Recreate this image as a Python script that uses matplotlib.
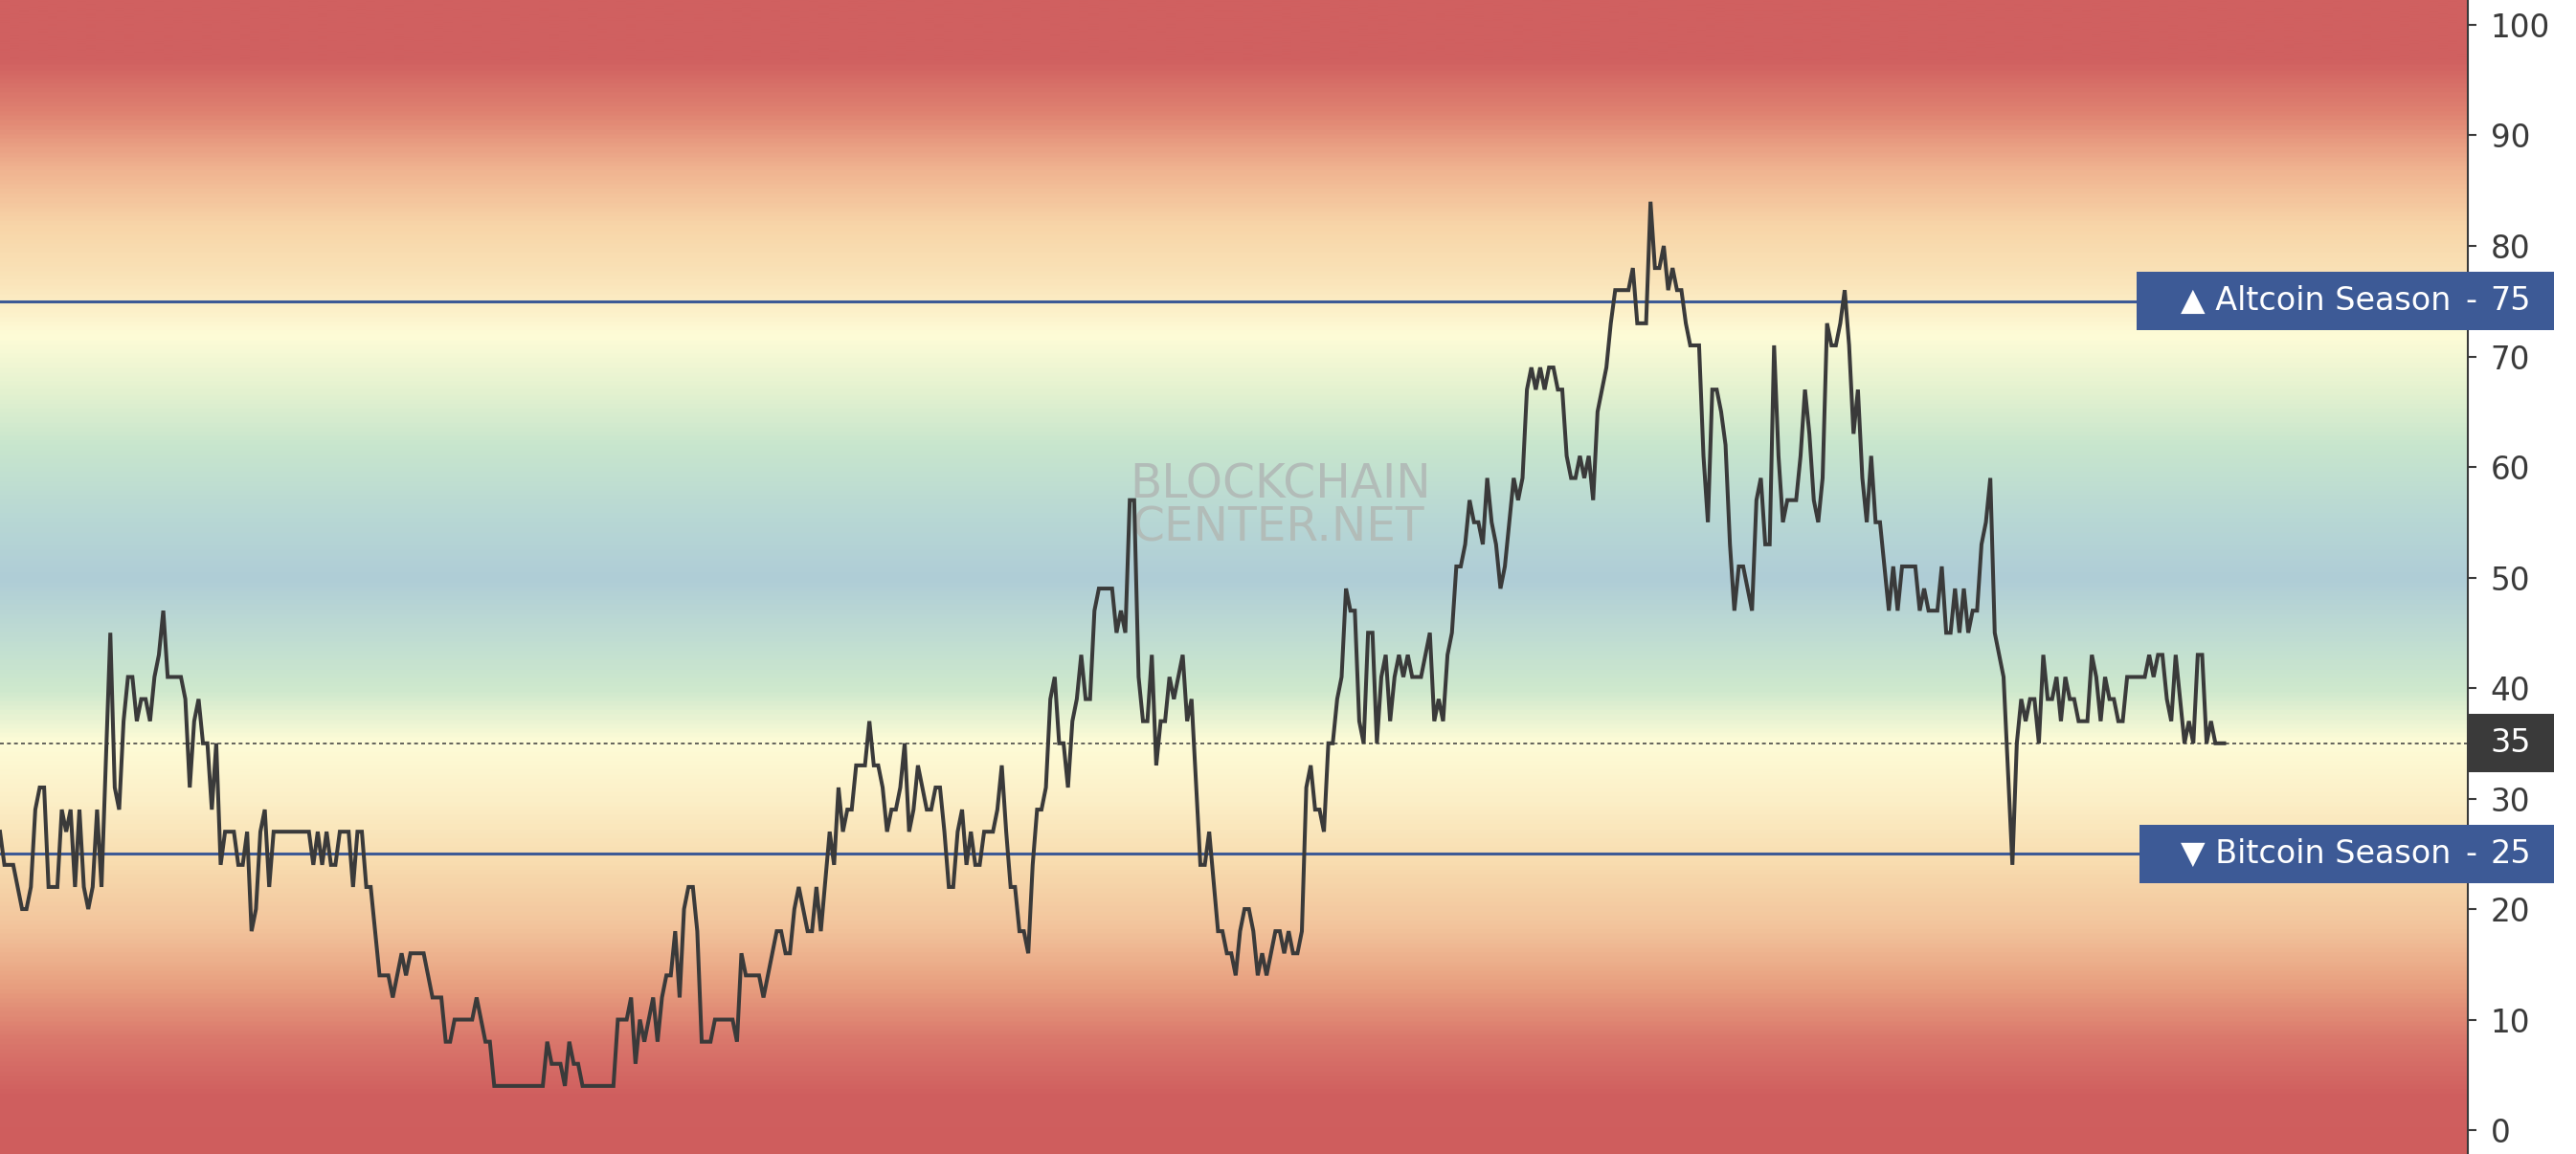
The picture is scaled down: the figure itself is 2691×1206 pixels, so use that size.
import numpy as np
import matplotlib
matplotlib.use('Agg')
import matplotlib.pyplot as plt
from matplotlib.colors import LinearSegmentedColormap
from matplotlib.patches import Rectangle
from matplotlib.transforms import blended_transform_factory

plt.rcParams['font.family'] = ['DejaVu Sans']

# altcoin season index, vertices (day index, value)
day = [0, 1, 3, 5, 6, 7, 8, 9, 10, 11, 13, 14, 15, 16, 17, 18, 19, 20, 21, 22, 23, 25, 26, 27, 28, 29, 30,
       31, 32, 33, 34, 35, 36, 37, 38, 41, 42, 43, 44, 45, 46, 47, 48, 49, 50, 51, 53, 54, 55, 56, 57, 58,
       59, 60, 61, 62, 70, 71, 72, 73, 74, 75, 76, 77, 79, 80, 81, 82, 83, 84, 86, 88, 89, 91, 92, 93, 96,
       98, 100, 101, 102, 103, 107, 108, 110, 111, 112, 123, 124, 125, 127, 128, 129, 130, 131, 132, 139,
       140, 142, 143, 144, 145, 146, 148, 149, 150, 151, 152, 153, 154, 155, 156, 157, 158, 159, 161, 162,
       166, 167, 168, 169, 172, 173, 175, 176, 177, 178, 179, 180, 181, 183, 184, 185, 186, 188, 189, 190,
       191, 192, 193, 194, 196, 197, 198, 199, 200, 201, 202, 203, 204, 205, 206, 207, 208, 209, 210, 211,
       212, 213, 214, 215, 216, 217, 218, 219, 220, 221, 222, 223, 225, 226, 227, 228, 229, 230, 231, 232,
       233, 234, 235, 236, 237, 238, 239, 240, 241, 242, 243, 244, 245, 246, 247, 248, 249, 252, 253, 254,
       255, 256, 257, 258, 259, 260, 261, 262, 263, 264, 265, 266, 267, 268, 269, 270, 272, 273, 274, 276,
       277, 278, 279, 280, 281, 282, 283, 284, 285, 286, 287, 288, 289, 290, 291, 292, 293, 294, 295, 296,
       297, 298, 299, 300, 301, 302, 303, 304, 305, 306, 307, 308, 309, 310, 311, 312, 313, 314, 315, 316,
       317, 318, 319, 320, 322, 323, 324, 325, 326, 327, 328, 329, 330, 331, 332, 333, 334, 335, 336, 337,
       338, 339, 340, 341, 342, 343, 344, 345, 346, 347, 348, 349, 350, 351, 352, 353, 354, 355, 356, 357,
       358, 359, 360, 361, 362, 363, 364, 365, 366, 369, 370, 371, 373, 374, 375, 376, 377, 378, 379, 380,
       381, 382, 383, 385, 386, 387, 388, 389, 390, 391, 392, 393, 394, 395, 396, 397, 398, 399, 400, 401,
       402, 403, 404, 405, 407, 408, 409, 410, 411, 412, 413, 414, 415, 416, 417, 418, 419, 420, 421, 422,
       423, 424, 425, 426, 427, 428, 429, 430, 431, 434, 435, 436, 437, 439, 440, 441, 442, 443, 444, 445,
       446, 447, 448, 449, 450, 451, 452, 453, 454, 456, 457, 458, 459, 460, 461, 462, 463, 464, 465, 466,
       467, 468, 469, 470, 471, 473, 474, 475, 476, 477, 478, 479, 480, 481, 482, 486, 487, 488, 489, 490,
       491, 492, 493, 494, 495, 496, 497, 498, 499, 500, 501, 502, 504]
alt_index = [27, 24, 24, 20, 20, 22, 29, 31, 31, 22, 22, 29, 27, 29, 22, 29, 22, 20, 22, 29, 22, 45, 31, 29, 37, 41, 41,
             37, 39, 39, 37, 41, 43, 47, 41, 41, 39, 31, 37, 39, 35, 35, 29, 35, 24, 27, 27, 24, 24, 27, 18, 20,
             27, 29, 22, 27, 27, 24, 27, 24, 27, 24, 24, 27, 27, 22, 27, 27, 22, 22, 14, 14, 12, 16, 14, 16, 16,
             12, 12, 8, 8, 10, 10, 12, 8, 8, 4, 4, 8, 6, 6, 4, 8, 6, 6, 4, 4,
             10, 10, 12, 6, 10, 8, 12, 8, 12, 14, 14, 18, 12, 20, 22, 22, 18, 8, 8, 10,
             10, 8, 16, 14, 14, 12, 16, 18, 18, 16, 16, 20, 22, 18, 18, 22, 18, 27, 24, 31,
             27, 29, 29, 33, 33, 37, 33, 33, 31, 27, 29, 29, 31, 35, 27, 29, 33, 31, 29, 29,
             31, 31, 27, 22, 22, 27, 29, 24, 27, 24, 24, 27, 27, 29, 33, 27, 22, 22, 18, 18,
             16, 24, 29, 29, 31, 39, 41, 35, 35, 31, 37, 39, 43, 39, 39, 47, 49, 49, 45, 47,
             45, 57, 57, 41, 37, 37, 43, 33, 37, 37, 41, 39, 41, 43, 37, 39, 24, 24, 27, 18,
             18, 16, 16, 14, 18, 20, 20, 18, 14, 16, 14, 16, 18, 18, 16, 18, 16, 16, 18, 31,
             33, 29, 29, 27, 35, 35, 39, 41, 49, 47, 47, 37, 35, 45, 45, 35, 41, 43, 37, 41,
             43, 41, 43, 41, 41, 43, 45, 37, 39, 37, 43, 45, 51, 51, 53, 57, 55, 55, 53, 59,
             55, 53, 49, 51, 55, 59, 57, 59, 67, 69, 67, 69, 67, 69, 69, 67, 67, 61, 59, 59,
             61, 59, 61, 57, 65, 67, 69, 73, 76, 76, 78, 73, 73, 84, 78, 78, 80, 76, 78, 76,
             76, 73, 71, 71, 61, 55, 67, 67, 65, 62, 53, 47, 51, 51, 49, 47, 57, 59, 53, 53,
             71, 61, 55, 57, 57, 61, 67, 63, 57, 55, 59, 73, 71, 71, 73, 76, 71, 63, 67, 59,
             55, 61, 55, 55, 51, 47, 51, 47, 51, 51, 47, 49, 47, 47, 51, 45, 45, 49, 45, 49,
             45, 47, 47, 53, 55, 59, 45, 43, 41, 24, 35, 39, 37, 39, 39, 35, 43, 39, 39, 41,
             37, 41, 39, 39, 37, 37, 43, 41, 37, 41, 39, 39, 37, 37, 41, 41, 43, 41, 43, 43,
             39, 37, 43, 39, 35, 37, 35, 43, 43, 35, 37, 35, 35]

levels = [75, 25]
level_names = ['\u25B2 Altcoin Season', '\u25BC Bitcoin Season']
current = 35
yticks = list(range(0, 101, 10))

# background gradient stops (value, rgb)
grad_vals = [-3, 3, 8, 13, 18, 24, 30, 35, 40, 44, 50, 56, 62, 67, 72, 77, 82, 87, 92, 97, 103]
grad_cols = [(207, 93, 93), (208, 95, 95), (218, 120, 108), (232, 160, 128), (242, 195, 155),
             (248, 220, 175), (252, 240, 200), (254, 252, 215), (205, 232, 205), (193, 222, 210),
             (175, 205, 215), (185, 217, 212), (200, 230, 205), (228, 242, 208), (254, 252, 215),
             (250, 228, 185), (248, 213, 168), (240, 180, 145), (224, 132, 114), (208, 96, 96),
             (208, 96, 96)]

ymin, ymax = -2.16, 102.25
xmax = 559.2
blue = '#3d5a96'
dark = '#3a3a3a'
mark_col = '#b2bcb8'

span = grad_vals[-1] - grad_vals[0]
cmap = LinearSegmentedColormap.from_list(
    'season', [((v - grad_vals[0]) / span, tuple(c / 255 for c in col)) for v, col in zip(grad_vals, grad_cols)])

fig = plt.figure(figsize=(26.91, 12.06), dpi=100)
ax = fig.add_axes([0, 0, 2578 / 2691, 1])
ys = np.linspace(ymin, ymax, 800)
ax.imshow(ys[:, None], extent=[0, xmax, ymin, ymax], origin='lower', aspect='auto',
          cmap=cmap, vmin=grad_vals[0], vmax=grad_vals[-1], zorder=0, interpolation='bilinear')

ax.text(0.4577, 0.580, 'BLOCKCHAIN', transform=ax.transAxes, fontsize=35, color=mark_col,
        ha='left', va='center', zorder=1)
ax.text(0.4585, 0.543, 'CENTER.NET', transform=ax.transAxes, fontsize=35, color=mark_col,
        ha='left', va='center', zorder=1)

for lv in levels:
    ax.axhline(lv, color=blue, lw=2.2, zorder=2)
ax.axhline(current, color=dark, lw=1.1, dashes=(2.6, 2.2), zorder=2)

ax.plot(day, alt_index, color=dark, lw=2.9, zorder=3, solid_joinstyle='miter')

ax.set_xlim(0, xmax)
ax.set_ylim(ymin, ymax)

for s in ['left', 'top', 'bottom']:
    ax.spines[s].set_visible(False)
ax.spines['right'].set_color(dark)
ax.spines['right'].set_linewidth(1.5)
ax.set_xticks([])
ax.yaxis.tick_right()
ax.set_yticks(yticks)
ax.tick_params(axis='y', direction='out', length=6.5, width=1.5, color=dark,
               labelcolor=dark, labelsize=23.5, pad=10.5)

trans = blended_transform_factory(ax.transAxes, ax.transData)
box_h = 5.25
for lv, name, x0 in zip(levels, level_names, [2232 / 2578, 2235 / 2578]):
    ax.add_patch(Rectangle((x0, lv - box_h / 2), 2668 / 2578 - x0, box_h, transform=trans,
                           facecolor=blue, edgecolor='none', clip_on=False, zorder=5))
    ax.text(2560 / 2578, lv, name, transform=trans, ha='right', va='center', color='white',
            fontsize=24, zorder=6, clip_on=False)
    ax.text(2581 / 2578, lv, '-', transform=trans, ha='center', va='center', color='white',
            fontsize=24, zorder=6, clip_on=False)
    ax.text(2601 / 2578, lv, str(lv), transform=trans, ha='left', va='center', color='white',
            fontsize=24, zorder=6, clip_on=False)

ax.add_patch(Rectangle((1.0, current - box_h / 2), 2668 / 2578 - 1.0, box_h, transform=trans,
                       facecolor=dark, edgecolor='none', clip_on=False, zorder=5))
ax.text(2601 / 2578, current, str(current), transform=trans, ha='left', va='center', color='white',
        fontsize=24, zorder=6, clip_on=False)

fig.patch.set_facecolor('white')
fig.savefig('out.png', dpi=100)
